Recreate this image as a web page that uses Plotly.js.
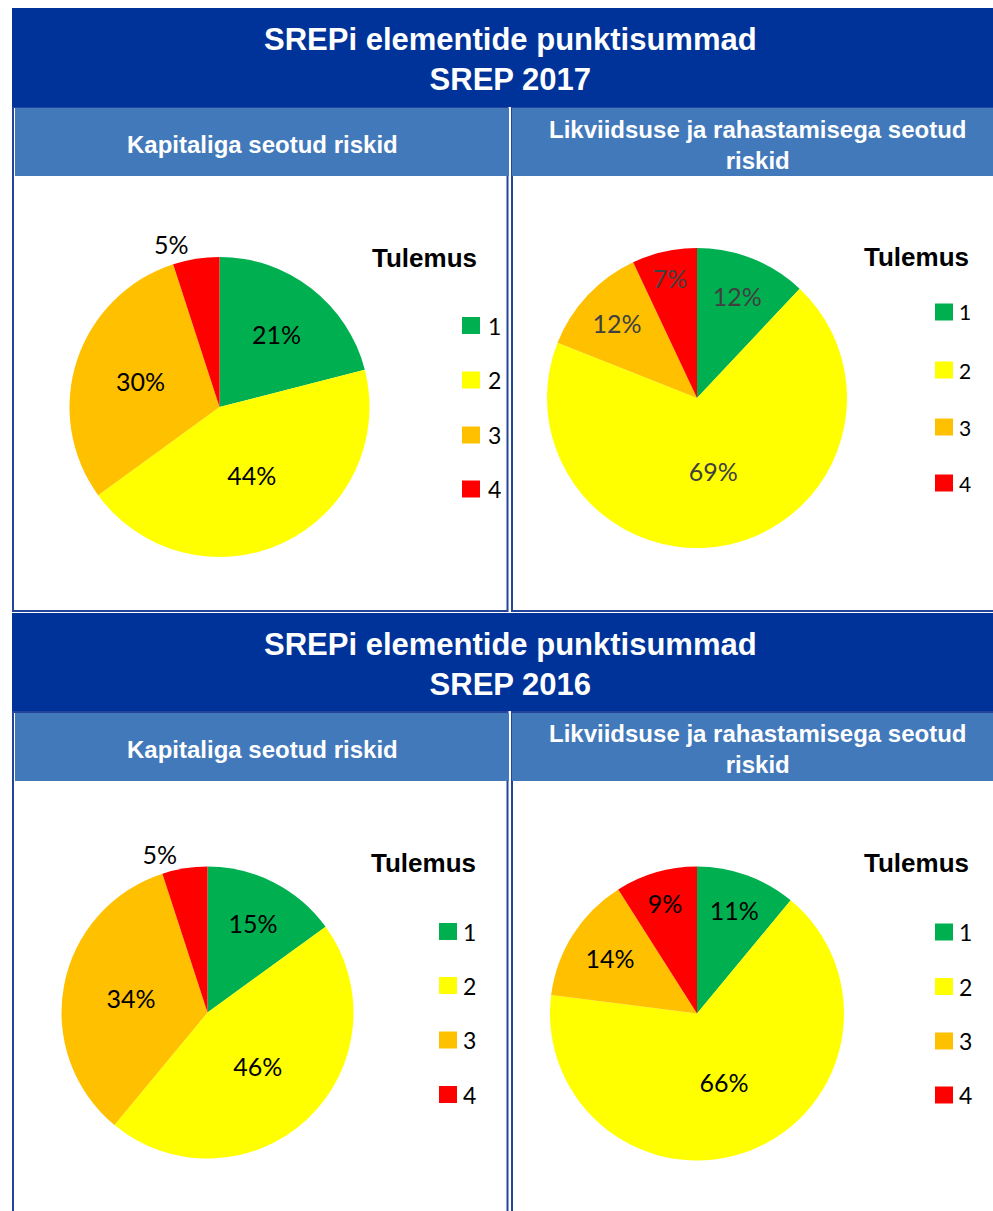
<!DOCTYPE html>
<html>
<head>
<meta charset="utf-8">
<script src="https://cdn.plot.ly/plotly-3.0.1.min.js"></script>
<style>
html, body { margin: 0; padding: 0; background: #ffffff; }
#chart { width: 993px; height: 1211px; }
</style>
</head>
<body>
<div id="chart"></div>
<script>
// ---------------- DATA ----------------
const categories = ['1', '2', '3', '4'];
const sliceColors = ['#00B050', '#FFFF00', '#FFC000', '#FF0000'];
const capital2017 = [21, 44, 30, 5];
const liquidity2017 = [12, 69, 12, 7];
const capital2016 = [15, 46, 34, 5];
const liquidity2016 = [11, 66, 14, 9];
const mainTitle = 'SREPi elementide punktisummad';
const yearTitles = ['SREP 2017', 'SREP 2016'];
const panelTitles = ['Kapitaliga seotud riskid', 'Likviidsuse ja rahastamisega seotud<br>riskid'];
const legendTitle = 'Tulemus';

// ---------------- GEOMETRY (pixels) ----------------
const W = 993, H = 1211;
const fx = x => x / W;
const fy = y => 1 - y / H;

const DARK = '#003399';
const SUB = '#4279BA';
const BORDER = '#23449A';
const FONT_HEAD = 'Liberation Sans, Arial, sans-serif';
const FONT_BODY = 'Lato, Open Sans, sans-serif';

const blocks = [
  { headTop: 8, headBot: 107, subTop: 108, subBot: 176, panelBot: 611, titleY: 59, subTextY: 145 },
  { headTop: 613, headBot: 711, subTop: 713, subBot: 781, panelBot: 1216, titleY: 664, subTextY: 749 }
];

const pies = [
  { values: capital2017, cx: 219.5, cy: 407, r: 150, pos: ['inside', 'inside', 'inside', 'outside'], color: '#000000' },
  { values: liquidity2017, cx: 697, cy: 398, r: 150, pos: ['inside', 'inside', 'inside', 'inside'], color: '#404040' },
  { values: capital2016, cx: 207.5, cy: 1012.5, r: 146, pos: ['inside', 'inside', 'inside', 'outside'], color: '#000000' },
  { values: liquidity2016, cx: 697, cy: 1013.5, r: 147, pos: ['inside', 'inside', 'inside', 'inside'], color: '#000000' }
];
const PIE_TEXT_SIZE = 25;

const legends = [
  { titleX: 424, titleY: 258, sqX: 462, txtX: 486, ys: [325.5, 380, 435, 489], size: 23 },
  { titleX: 916, titleY: 257, sqX: 935, txtX: 957, ys: [312, 370, 427, 483], size: 21 },
  { titleX: 423, titleY: 863, sqX: 439, txtX: 461, ys: [931.5, 985.5, 1040, 1094.5], size: 23 },
  { titleX: 916, titleY: 863, sqX: 935, txtX: 957, ys: [932, 986.5, 1041, 1095], size: 23 }
];

// ---------------- TRACES ----------------
const traces = pies.map(p => ({
  type: 'pie',
  labels: categories,
  values: p.values,
  sort: false,
  direction: 'clockwise',
  rotation: 0,
  marker: { colors: sliceColors, line: { width: 0 } },
  texttemplate: '%{value}%',
  textposition: p.pos,
  insidetextorientation: 'horizontal',
  textfont: { family: FONT_BODY, size: PIE_TEXT_SIZE, color: p.color },
  showlegend: false,
  hoverinfo: 'none',
  domain: {
    x: [fx(p.cx - p.r), fx(p.cx + p.r)],
    y: [fy(p.cy + p.r), fy(p.cy - p.r)]
  }
}));

// ---------------- SHAPES & ANNOTATIONS ----------------
const shapes = [];
const annotations = [];

function rect(x0, y0, x1, y1, fill, line) {
  shapes.push({
    type: 'rect', xref: 'paper', yref: 'paper', layer: 'below',
    x0: fx(x0), x1: fx(x1), y0: fy(y1), y1: fy(y0),
    fillcolor: fill || 'rgba(0,0,0,0)',
    line: line || { width: 0 }
  });
}

blocks.forEach((b, i) => {
  rect(13, b.subTop - 1, 507.5, b.panelBot, null, { color: BORDER, width: 2 });
  rect(512, b.subTop - 1, 1000, b.panelBot, null, { color: BORDER, width: 2 });
  rect(12, b.headTop, 993, b.headBot, DARK);
  rect(15, b.subTop, 509, b.subBot, SUB);
  rect(512, b.subTop, 993, b.subBot, SUB);

  annotations.push({
    xref: 'paper', yref: 'paper', x: fx(510), y: fy(b.titleY),
    xanchor: 'center', yanchor: 'middle', showarrow: false,
    text: mainTitle + '<br>' + yearTitles[i],
    font: { family: FONT_HEAD, size: 31, color: '#ffffff', weight: 700 }
  });
  annotations.push({
    xref: 'paper', yref: 'paper', x: fx(262), y: fy(b.subTextY),
    xanchor: 'center', yanchor: 'middle', showarrow: false,
    text: panelTitles[0],
    font: { family: FONT_HEAD, size: 24, color: '#ffffff', weight: 700 }
  });
  annotations.push({
    xref: 'paper', yref: 'paper', x: fx(758), y: fy(b.subTextY),
    xanchor: 'center', yanchor: 'middle', showarrow: false,
    text: panelTitles[1],
    font: { family: FONT_HEAD, size: 24, color: '#ffffff', weight: 700 }
  });
});

legends.forEach(l => {
  annotations.push({
    xref: 'paper', yref: 'paper', x: fx(l.titleX), y: fy(l.titleY),
    xanchor: 'center', yanchor: 'middle', showarrow: false,
    text: legendTitle,
    font: { family: FONT_HEAD, size: 26, color: '#000000', weight: 700 }
  });
  categories.forEach((c, k) => {
    const yc = l.ys[k];
    shapes.push({
      type: 'rect', xref: 'paper', yref: 'paper',
      x0: fx(l.sqX), x1: fx(l.sqX + 18), y0: fy(yc + 8.5), y1: fy(yc - 8.5),
      fillcolor: sliceColors[k], line: { width: 0 }
    });
    annotations.push({
      xref: 'paper', yref: 'paper', x: fx(l.txtX), y: fy(yc),
      xanchor: 'left', yanchor: 'middle', showarrow: false,
      text: c,
      font: { family: FONT_BODY, size: l.size, color: '#000000' }
    });
  });
});

const layout = {
  width: W, height: H,
  margin: { l: 0, r: 0, t: 0, b: 0 },
  paper_bgcolor: '#ffffff',
  showlegend: false,
  uniformtext: { mode: 'show', minsize: PIE_TEXT_SIZE },
  shapes: shapes,
  annotations: annotations
};

Plotly.newPlot('chart', traces, layout, { displayModeBar: false, staticPlot: true });
</script>
</body>
</html>
